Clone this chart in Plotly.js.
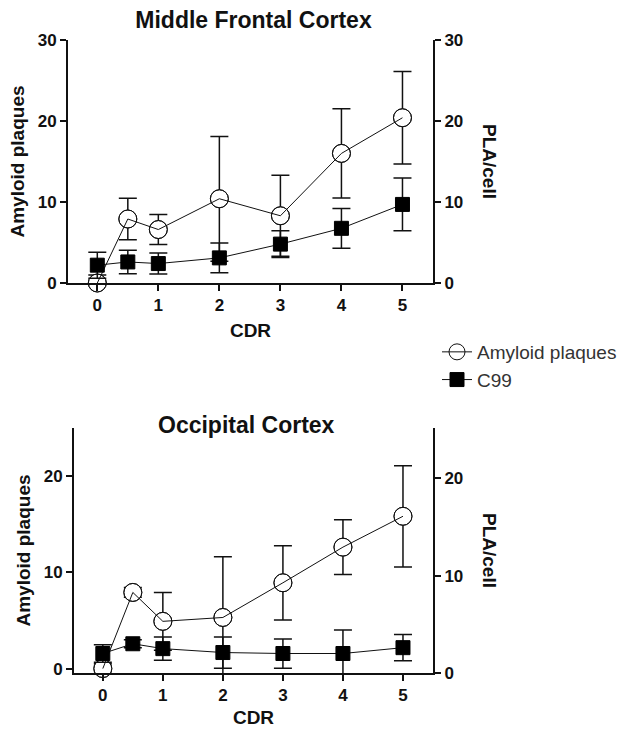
<!DOCTYPE html>
<html>
<head>
<meta charset="utf-8">
<script src="https://cdn.plot.ly/plotly-3.0.1.min.js"></script>
<style>html,body{margin:0;padding:0;background:#fff;}#chart{width:630px;height:733px;}</style>
</head>
<body>
<div id="chart"></div>
<script>
// Data
const cdr = [0, 0.5, 1, 2, 3, 4, 5];
const xTicks = [0, 1, 2, 3, 4, 5];

const mfcPlaques    = [0, 7.9, 6.6, 10.4, 8.3, 16.0, 20.4];
const mfcPlaquesErr = [1.0, 2.55, 1.85, 7.7, 5.0, 5.5, 5.7];
const mfcC99        = [2.2, 2.6, 2.4, 3.1, 4.8, 6.75, 9.7];
const mfcC99Err     = [1.6, 1.45, 1.3, 1.85, 1.65, 2.45, 3.25];

const occPlaques    = [0, 7.9, 4.9, 5.3, 8.9, 12.6, 15.8];
const occPlaquesErr = [0.5, 0.5, 3.0, 6.3, 3.85, 2.85, 5.25];
const occC99        = [2.0, 3.0, 2.5, 2.1, 2.0, 2.0, 2.6];
const occC99Err     = [0.9, 0.4, 1.2, 1.6, 1.5, 2.4, 1.35];

const seriesNames = ['Amyloid plaques', 'C99'];
const titles = ['Middle Frontal Cortex', 'Occipital Cortex'];

const W = 630, H = 733;
const px = v => v / W;
const py = v => 1 - v / H;

const FAM = 'Liberation Sans, Arial, sans-serif';
const tickFont = {family: FAM, size: 17, color: '#111', weight: 'bold'};
const titleFont = {family: FAM, size: 19, color: '#111', weight: 'bold'};
const headFont = {family: FAM, size: 23, color: '#111', weight: 'bold'};

function errs(arr, w) {
  return {type: 'data', array: arr, visible: true, color: '#111', thickness: 1.5, width: w};
}

function plaqueTraces(xa, ya, y, e, legend) {
  return [
    {x: cdr, y: y, xaxis: xa, yaxis: ya, type: 'scatter', mode: 'markers', showlegend: false,
     cliponaxis: false, hoverinfo: 'skip',
     marker: {symbol: 'circle', size: 18, color: '#fff', line: {color: '#111', width: 1}},
     error_y: errs(e, 9)},
    {x: cdr, y: y, xaxis: xa, yaxis: ya, type: 'scatter', mode: 'lines+markers', name: seriesNames[0],
     showlegend: legend, cliponaxis: false, legendrank: 1,
     line: {color: '#111', width: 1},
     marker: {symbol: 'circle-open', size: 18, color: '#111', line: {color: '#111', width: 1}}}
  ];
}
function c99Trace(xa, ya, y, e, legend) {
  return {x: cdr, y: y, xaxis: xa, yaxis: ya, type: 'scatter', mode: 'lines+markers', name: seriesNames[1],
    showlegend: legend, cliponaxis: false, legendrank: 2,
    line: {color: '#111', width: 1},
    marker: {symbol: 'square', size: 14, color: '#000', line: {color: '#000', width: 1}},
    error_y: errs(e, 9)};
}

const data = [
  ...plaqueTraces('x', 'y', mfcPlaques, mfcPlaquesErr, true),
  c99Trace('x', 'y2', mfcC99, mfcC99Err, true),
  ...plaqueTraces('x2', 'y3', occPlaques, occPlaquesErr, false),
  c99Trace('x2', 'y4', occC99, occC99Err, false)
];

function xAxis(domain, anchor, standoff) {
  return {domain: domain, anchor: anchor, range: [-0.48, 5.5], tickvals: xTicks, ticktext: xTicks.map(String),
    showline: true, linecolor: '#111', linewidth: 2, ticks: 'outside', ticklen: 6, tickwidth: 2, tickcolor: '#111',
    showgrid: false, zeroline: false, tickfont: tickFont,
    title: {text: 'CDR', font: titleFont, standoff: standoff}};
}
function yLeft(domain, anchor, range, vals) {
  return {domain: domain, anchor: anchor, range: range, tickvals: vals, ticktext: vals.map(String),
    showline: true, linecolor: '#111', linewidth: 2, ticks: 'outside', ticklen: 6, tickwidth: 2, tickcolor: '#111',
    showgrid: false, zeroline: false, tickfont: tickFont,
    title: {text: 'Amyloid plaques', font: titleFont, standoff: 8}};
}
function yRight(domain, anchor, overlay, range, vals) {
  return {domain: domain, anchor: anchor, overlaying: overlay, side: 'right', range: range,
    tickvals: vals, ticktext: vals.map(String),
    showline: true, linecolor: '#111', linewidth: 2, ticks: 'outside', ticklen: 6, tickwidth: 2, tickcolor: '#111',
    showgrid: false, zeroline: false, tickfont: tickFont};
}

const topX = [px(68), px(433)];
const topY = [py(283), py(40)];
const botX = [px(74), px(433)];
const botY = [py(673), py(428)];

const layout = {
  width: W, height: H,
  margin: {l: 0, r: 0, t: 0, b: 0},
  paper_bgcolor: '#fff', plot_bgcolor: 'rgba(0,0,0,0)',
  font: {family: FAM, color: '#111'},
  title: {text: titles[0], font: headFont,
          x: 253.5 / W, xanchor: 'center', xref: 'container', y: py(20), yanchor: 'middle', yref: 'container'},
  xaxis: xAxis(topX, 'y', 9),
  yaxis: yLeft(topY, 'x', [0, 30], [0, 10, 20, 30]),
  yaxis2: yRight(topY, 'x', 'y', [0, 30], [0, 10, 20, 30]),
  xaxis2: xAxis(botX, 'y3', 6),
  yaxis3: yLeft(botY, 'x2', [-0.46, 24.96], [0, 10, 20]),
  yaxis4: yRight(botY, 'x2', 'y3', [0, 25.14], [0, 10, 20]),
  showlegend: true,
  legend: {x: px(437), xanchor: 'left', y: py(333), yanchor: 'top', bgcolor: 'rgba(0,0,0,0)',
           font: {family: FAM, size: 19, color: '#333'}, tracegroupgap: 0},
  annotations: [
    {text: titles[1], xref: 'paper', yref: 'paper', x: 246 / W, y: py(425), xanchor: 'center', yanchor: 'middle',
     showarrow: false, font: headFont},
    {text: 'PLA/cell', xref: 'paper', yref: 'paper', x: px(490), y: py(161), xanchor: 'center', yanchor: 'middle',
     textangle: 90, showarrow: false, font: titleFont},
    {text: 'PLA/cell', xref: 'paper', yref: 'paper', x: px(490), y: py(550), xanchor: 'center', yanchor: 'middle',
     textangle: 90, showarrow: false, font: titleFont}
  ]
};

Plotly.newPlot('chart', data, layout, {displayModeBar: false, staticPlot: true});
</script>
</body>
</html>
